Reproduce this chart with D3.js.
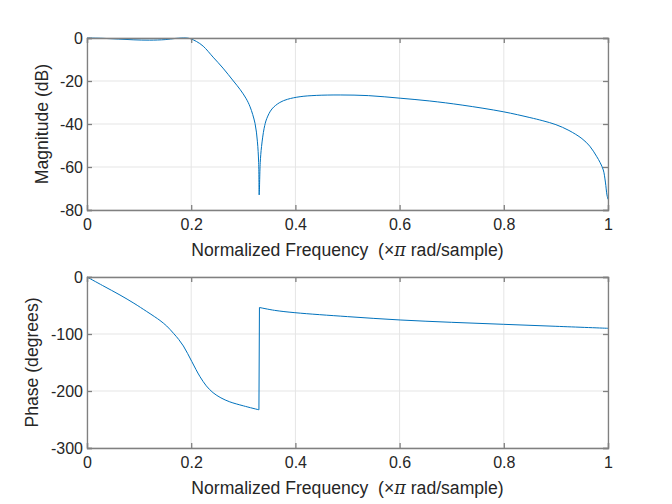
<!DOCTYPE html>
<html><head><meta charset="utf-8">
<script src="https://cdn.jsdelivr.net/npm/d3@7"></script>
<style>
html,body{margin:0;padding:0;background:#fff;}
svg{display:block;font-family:"Liberation Sans",Arial,Helvetica,sans-serif;}
text{white-space:pre;}
</style></head><body>
<svg id="chart" width="672" height="504"></svg>
<script>
// Magnitude response (normalized frequency, dB)
const magFreq = [0, 0.03, 0.06, 0.09, 0.12, 0.15, 0.17, 0.19, 0.198, 0.21, 0.223, 0.242, 0.261, 0.281, 0.294, 0.305, 0.313, 0.3225, 0.327, 0.3295, 0.3305, 0.3325, 0.335, 0.34, 0.345, 0.355, 0.37, 0.385, 0.409, 0.44, 0.486, 0.54, 0.601, 0.658, 0.72, 0.799, 0.85, 0.875, 0.9, 0.925, 0.95, 0.965, 0.978, 0.985, 0.991, 0.995, 0.998, 1.0];
const magDb   = [0, -0.15, -0.5, -0.85, -1.0, -0.75, -0.2, 0, -0.3, -1.6, -3.8, -8.9, -14.0, -20, -24, -28, -32, -39.7, -48, -58, -73, -58, -50.5, -42, -37.5, -33, -30, -28.5, -27.3, -26.7, -26.5, -26.8, -28, -29.3, -31.2, -34.3, -37, -38.5, -40.3, -43, -46.8, -50.3, -55, -58, -61.4, -67, -73, -75];
// Phase response (normalized frequency, degrees)
const phaseFreq = [0, 0.03, 0.0633, 0.09, 0.1146, 0.13, 0.14, 0.153, 0.166, 0.176, 0.185, 0.193, 0.201, 0.209, 0.217, 0.229, 0.242, 0.257, 0.274, 0.30, 0.330, 0.331, 0.36, 0.399, 0.5, 0.601, 0.7, 0.799, 0.9, 1.0];
const phaseDeg  = [0, -15, -31.6, -46, -60.5, -69.8, -76.2, -86, -98.8, -109.5, -121, -134, -148, -162, -175, -191, -203, -212, -219, -226, -233, -53.5, -58.5, -62.6, -69.5, -75.4, -79.5, -83, -86.5, -90];
// Ticks
const xTicks = [0, 0.2, 0.4, 0.6, 0.8, 1];
const magTicks = [0, -20, -40, -60, -80];
const phaseTicks = [0, -100, -200, -300];

const svg = d3.select("#chart");
const L = 87, R = 608;
const lineColor = "#0072BD", axisColor = "#808080", textColor = "#262626", gridColor = "#e5e5e5";
const fmt = d => String(d);

function panel(top, bottom, yDomain, yTicks, xs, ys, ylabel, ylabelX) {
  const x = d3.scaleLinear().domain([0, 1]).range([L, R]);
  const y = d3.scaleLinear().domain(yDomain).range([bottom, top]);
  const g = svg.append("g");
  // grid
  g.selectAll(".gx").data(xTicks).join("line")
    .attr("x1", d => x(d)).attr("x2", d => x(d)).attr("y1", top).attr("y2", bottom)
    .attr("stroke", gridColor).attr("stroke-width", 1);
  g.selectAll(".gy").data(yTicks).join("line")
    .attr("y1", d => y(d)).attr("y2", d => y(d)).attr("x1", L).attr("x2", R)
    .attr("stroke", gridColor).attr("stroke-width", 1);
  // line: split into smooth segments at discontinuities (phase wrap), joined straight
  const pts = xs.map((f, i) => [f, ys[i]]);
  const segs = [[pts[0]]];
  for (let i = 1; i < pts.length; i++) {
    if (Math.abs(pts[i][1] - pts[i - 1][1]) > 90 && pts[i][0] - pts[i - 1][0] < 0.005) segs.push([]);
    segs[segs.length - 1].push(pts[i]);
  }
  const gen = d3.line().x(d => x(d[0])).y(d => y(d[1])).curve(d3.curveCatmullRom.alpha(0.5));
  const d = segs.map((s, i) => i === 0 ? gen(s) : "L" + gen(s).slice(1)).join("");
  g.append("path").attr("d", d)
    .attr("fill", "none").attr("stroke", lineColor).attr("stroke-width", 1);
  // axes
  const tl = 5;
  const ax = g.append("g").attr("transform", `translate(0,${bottom})`)
    .call(d3.axisBottom(x).tickValues(xTicks).tickSize(-tl).tickPadding(9).tickFormat(fmt));
  const axT = g.append("g").attr("transform", `translate(0,${top})`)
    .call(d3.axisTop(x).tickValues(xTicks).tickSize(-tl).tickFormat(""));
  const ay = g.append("g").attr("transform", `translate(${L},0)`)
    .call(d3.axisLeft(y).tickValues(yTicks).tickSize(-tl).tickPadding(4).tickFormat(fmt));
  const ayR = g.append("g").attr("transform", `translate(${R},0)`)
    .call(d3.axisRight(y).tickValues(yTicks).tickSize(-tl).tickFormat(""));
  [ax, axT, ay, ayR].forEach(a => {
    a.select(".domain").attr("stroke", axisColor).attr("stroke-width", 1.3);
    a.selectAll(".tick line").attr("stroke", axisColor).attr("stroke-width", 1.3);
    a.selectAll("text").attr("fill", textColor).attr("font-size", 16).attr("font-family", null);
  });
  // x label
  const xl = g.append("text").attr("x", (L + R) / 2).attr("y", bottom + 46)
    .attr("text-anchor", "middle").attr("fill", textColor).attr("font-size", 17.6);
  xl.append("tspan").text("Normalized Frequency  (\u00D7");
  xl.append("tspan").text("\u03C0").attr("font-family", "DejaVu Serif, serif").attr("font-style", "italic");
  xl.append("tspan").text(" rad/sample)");
  // y label
  g.append("text").attr("transform", `translate(${ylabelX},${(top + bottom) / 2}) rotate(-90)`)
    .attr("text-anchor", "middle").attr("fill", textColor).attr("font-size", 17.6).text(ylabel);
}

panel(38, 210, [-80, 0], magTicks, magFreq, magDb, "Magnitude (dB)", 48);
panel(277, 448, [-300, 0], phaseTicks, phaseFreq, phaseDeg, "Phase (degrees)", 38);
</script>
</body></html>
